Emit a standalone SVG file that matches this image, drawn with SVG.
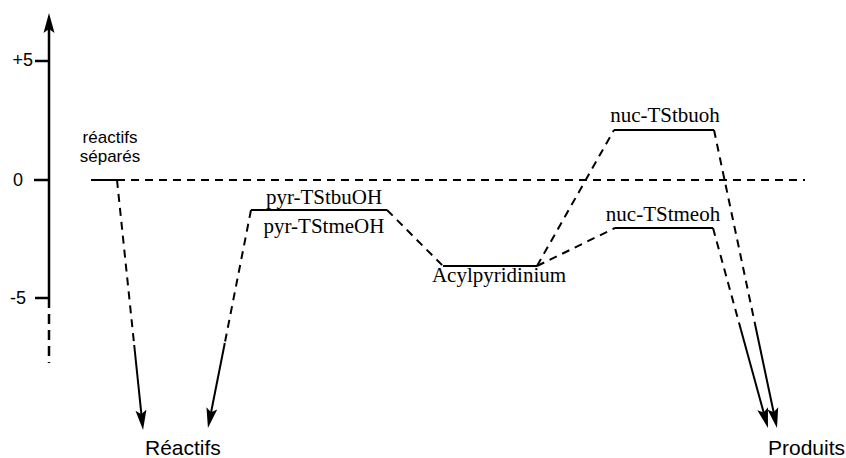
<svg xmlns="http://www.w3.org/2000/svg" width="846" height="458" viewBox="0 0 846 458">
<style>
.bg{fill:#fff}
.axis{stroke:#000;stroke-width:2.5;fill:none}
.lvl{stroke:#000;stroke-width:2.2;fill:none}
.dash{stroke:#000;stroke-width:2;fill:none;stroke-dasharray:8 6}
.solid{stroke:#000;stroke-width:2;fill:none}
.sans{font-family:"Liberation Sans",Arial,sans-serif;fill:#000}
.serif{font-family:"Liberation Serif","Times New Roman",serif;font-size:21px;fill:#000}
</style>
<defs>
<marker id="ah" markerUnits="userSpaceOnUse" markerWidth="22" markerHeight="14" viewBox="0 -7 22 14" refX="10" refY="0" orient="auto">
<path d="M0,-5.5 L20,0 L0,5.5 L4,0 z" fill="#000"/>
</marker>
</defs>
<rect class="bg" x="0" y="0" width="846" height="458"/>
<g id="axis">
<line class="axis" x1="49" y1="298" x2="49" y2="23" marker-end="url(#ah)"/>
<line class="axis" x1="49" y1="298" x2="49" y2="363" stroke-dasharray="10 6"/>
<line class="axis" x1="35" y1="61" x2="49" y2="61"/>
<line class="axis" x1="34" y1="180" x2="49" y2="180"/>
<line class="axis" x1="35" y1="298" x2="49" y2="298"/>
<text class="sans" x="33" y="66" font-size="18" text-anchor="end">+5</text>
<text class="sans" x="13" y="186" font-size="18">0</text>
<text class="sans" x="10" y="304" font-size="18">-5</text>
</g>
<g id="connectors">
<line class="dash" x1="131" y1="180" x2="805" y2="180"/>
<polyline class="dash" points="117,180 134.2,345"/>
<line class="solid" x1="134.2" y1="345" x2="142" y2="420.1" marker-end="url(#ah)"/>
<polyline class="dash" points="251,210 224.8,343"/>
<line class="solid" x1="224.8" y1="343" x2="209.9" y2="418.2" marker-end="url(#ah)"/>
<line class="dash" x1="387" y1="210" x2="443" y2="266"/>
<line class="dash" x1="537" y1="266" x2="614" y2="130"/>
<line class="dash" x1="537" y1="266" x2="615" y2="228"/>
<polyline class="dash" points="713,228 741,330"/>
<line class="solid" x1="741" y1="330" x2="765.3" y2="418.4" marker-end="url(#ah)"/>
<polyline class="dash" points="714,130 754.8,323"/>
<line class="solid" x1="754.8" y1="323" x2="774.9" y2="418.2" marker-end="url(#ah)"/>
</g>
<g id="reactifs-separes">
<line class="lvl" x1="91" y1="180" x2="125" y2="180"/>
<text class="sans" x="110" y="143" font-size="17" text-anchor="middle">réactifs</text>
<text class="sans" x="110" y="162" font-size="17" text-anchor="middle">séparés</text>
</g>
<g id="pyr-TS">
<line class="lvl" x1="251" y1="210" x2="387" y2="210"/>
<text class="serif" x="324" y="204" text-anchor="middle">pyr-TStbuOH</text>
<text class="serif" x="324" y="233" text-anchor="middle">pyr-TStmeOH</text>
</g>
<g id="acylpyridinium">
<line class="lvl" x1="443" y1="266" x2="537" y2="266"/>
<text class="serif" x="499" y="282" text-anchor="middle">Acylpyridinium</text>
</g>
<g id="nuc-TStbuoh">
<line class="lvl" x1="614" y1="130" x2="714" y2="130"/>
<text class="serif" x="665" y="122" text-anchor="middle">nuc-TStbuoh</text>
</g>
<g id="nuc-TStmeoh">
<line class="lvl" x1="615" y1="228" x2="713" y2="228"/>
<text class="serif" x="663" y="221" text-anchor="middle">nuc-TStmeoh</text>
</g>
<g id="reactifs">
<text class="sans" x="145" y="455" font-size="21">Réactifs</text>
</g>
<g id="produits">
<text class="sans" x="768" y="455" font-size="21">Produits</text>
</g>
</svg>
